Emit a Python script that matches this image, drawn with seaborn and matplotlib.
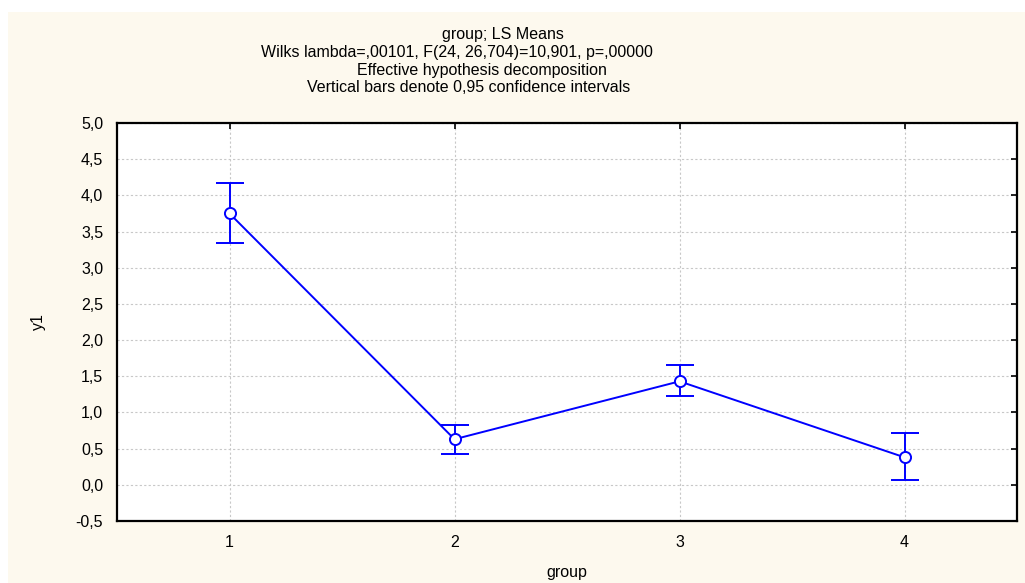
# --- Importing the requirements --- #
import numpy as np
import pandas as pd
import matplotlib
matplotlib.use("Agg")
import matplotlib.pyplot as plt
from matplotlib.patches import Rectangle
from matplotlib.ticker import FuncFormatter
import seaborn as sns

# --- DATA --- #
groups = [1, 2, 3, 4]
ls_means = [3.75, 0.63, 1.43, 0.38]
ci_upper = [4.17, 0.83, 1.65, 0.72]
ci_lower = [3.34, 0.43, 1.23, 0.07]
y_ticks = [-0.5, 0.0, 0.5, 1.0, 1.5, 2.0, 2.5, 3.0, 3.5, 4.0, 4.5, 5.0]

df = pd.DataFrame({"group": groups, "y1": ls_means,
                   "hi": ci_upper, "lo": ci_lower})

# --- STYLE --- #
sns.set_style("white")
plt.rcParams["font.family"] = ["Liberation Sans", "DejaVu Sans"]
plt.rcParams["text.color"] = "black"
blue = "#0000ff"
fs = 11.5

fig = plt.figure(figsize=(10.25, 5.83), dpi=100, facecolor="white")
# cream panel behind everything
fig.patches.append(Rectangle((8 / 1025, 0), 1 - 8 / 1025, 1 - 12 / 583,
                             transform=fig.transFigure, facecolor="#fdf9ee",
                             edgecolor="none", zorder=-10))

ax = fig.add_axes([117 / 1025, 1 - 521 / 583, 900 / 1025, 398 / 583])
ax.set_facecolor("white")

# --- ERROR BARS + LINE --- #
ax.errorbar(df["group"], df["y1"],
            yerr=[df["y1"] - df["lo"], df["hi"] - df["y1"]],
            fmt="none", ecolor=blue, elinewidth=1.4, capsize=10,
            capthick=1.4, zorder=3)
sns.lineplot(data=df, x="group", y="y1", ax=ax, color=blue, linewidth=1.4,
             marker="o", markersize=8, markerfacecolor="white",
             markeredgecolor=blue, markeredgewidth=1.4, zorder=4)

# --- AXES --- #
ax.set_xlim(0.5, 4.5)
ax.set_ylim(-0.5, 5.0)
ax.set_xticks(groups)
ax.set_yticks(y_ticks)
ax.yaxis.set_major_formatter(FuncFormatter(lambda v, p: f"{v:.1f}".replace(".", ",")))
ax.grid(True, color="#c8c8c8", linestyle=(0, (2, 2)), linewidth=0.8)
ax.tick_params(direction="in", length=4, width=1.2, top=True, right=True,
               labelsize=fs, colors="black", pad=10)
for s in ax.spines.values():
    s.set_color("black")
    s.set_linewidth(1.6)
ax.set_xlabel("")
ax.set_ylabel("")

# --- TEXTS --- #
fig.text(567 / 1025, 1 - 572 / 583, "group", ha="center", va="center", fontsize=fs)
fig.text(38 / 1025, 1 - 322 / 583, "y1", ha="center", va="center",
         fontsize=fs, rotation=90)
fig.text(503 / 1025, 1 - 35 / 583, "group; LS Means", ha="center", va="center", fontsize=fs)
fig.text(457 / 1025, 1 - 53 / 583, "Wilks lambda=,00101, F(24, 26,704)=10,901, p=,00000",
         ha="center", va="center", fontsize=fs)
fig.text(482 / 1025, 1 - 70 / 583, "Effective hypothesis decomposition",
         ha="center", va="center", fontsize=fs)
fig.text(469 / 1025, 1 - 87 / 583, "Vertical bars denote 0,95 confidence intervals",
         ha="center", va="center", fontsize=fs)

fig.savefig("out.png", dpi=100, facecolor=fig.get_facecolor())
